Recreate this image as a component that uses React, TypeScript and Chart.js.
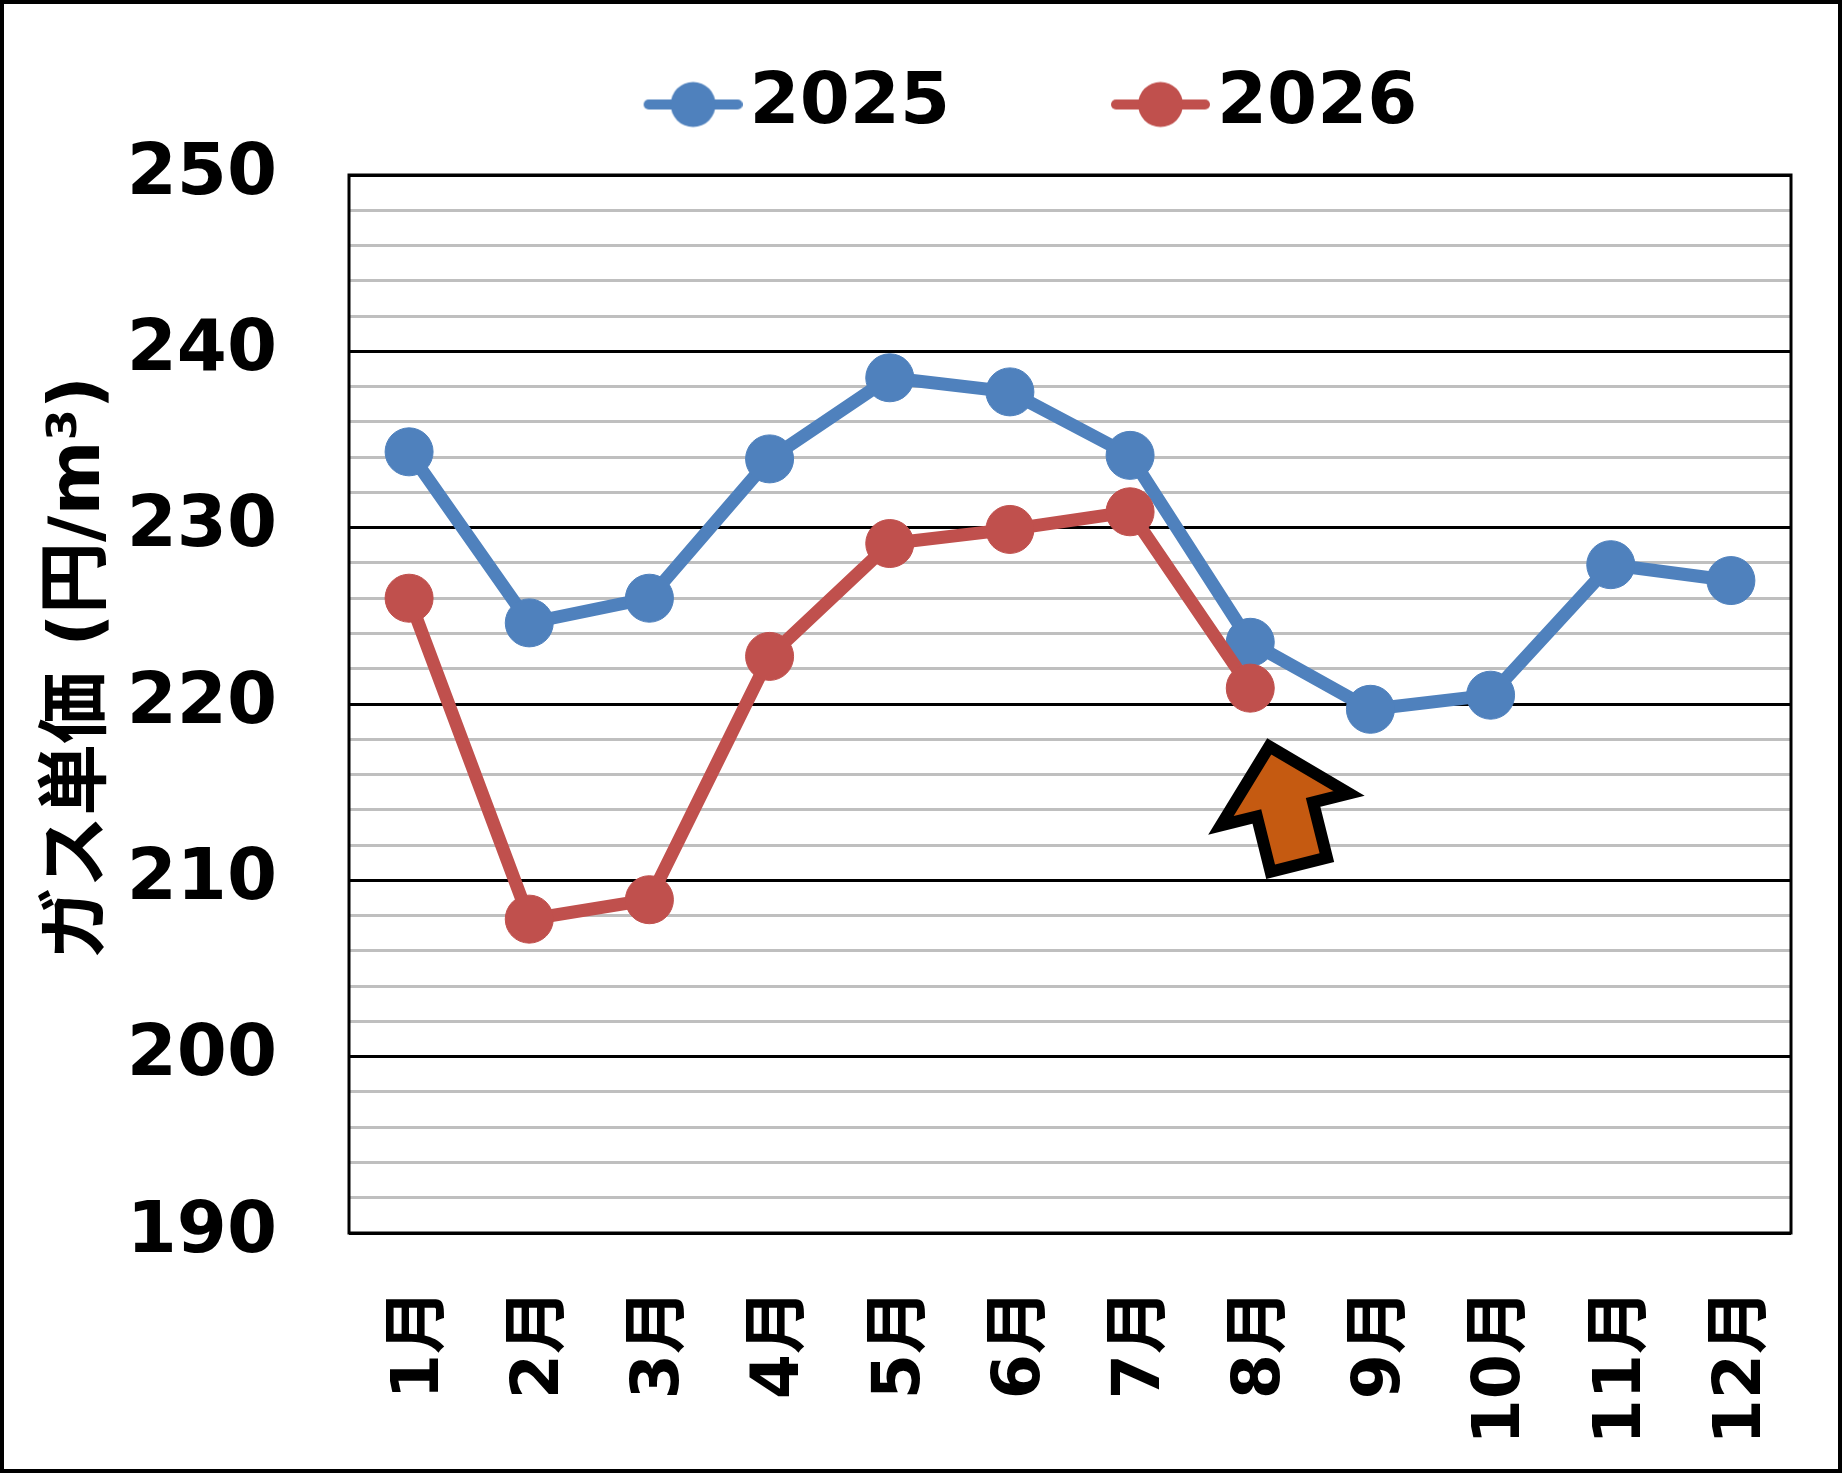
import React, { useEffect, useRef } from 'react';
import { Chart, registerables } from 'chart.js';

Chart.register(...registerables);

const months = ['1月', '2月', '3月', '4月', '5月', '6月', '7月', '8月', '9月', '10月', '11月', '12月'];
const prices2025 = [234.3, 224.6, 226.0, 233.9, 238.5, 237.7, 234.1, 223.5, 219.7, 220.5, 227.9, 227.0];
const prices2026 = [226.0, 207.8, 208.9, 222.7, 229.1, 229.9, 230.9, 220.9];
const seriesNames = ['2025', '2026'];
const seriesColors = ['#4F81BD', '#C0504D'];

const yMin = 190;
const yMax = 250;
const yStep = 2;
const yMajor = 10;
const yTitle = '\u3000ガス単価 (円/m³)';

// orange arrow under the latest month
const arrowMonth = '8月';
const arrowValue = 217.6;

const FONT = '"DejaVu Sans", "Noto Sans CJK JP", sans-serif';
const W = 1834;
const H = 1465;

// line + dot marker for the legend (dot sits at the right end of the image)
function legendMarker(color: string) {
  const c = document.createElement('canvas');
  c.width = 269;
  c.height = 48;
  const g = c.getContext('2d')!;
  g.strokeStyle = color;
  g.lineWidth = 10;
  g.lineCap = 'round';
  g.beginPath();
  g.moveTo(175, 24);
  g.lineTo(264, 24);
  g.stroke();
  g.fillStyle = color;
  g.beginPath();
  g.arc(219.5, 24, 22.5, 0, Math.PI * 2);
  g.fill();
  return c;
}

const framePlugin = {
  id: 'frame',
  beforeDatasetsDraw(chart: Chart) {
    const { ctx, chartArea: a } = chart;
    ctx.save();
    ctx.strokeStyle = '#000';
    ctx.lineWidth = 3;
    ctx.strokeRect(a.left, a.top, a.right - a.left, a.bottom - a.top);
    ctx.restore();
  },
};

const legendShiftPlugin = {
  id: 'legendShift',
  afterLayout(chart: Chart) {
    const lg: any = (chart as any).legend;
    if (!lg) return;
    lg.left += 62.5;
    lg.right += 62.5;
    lg.top -= 24.5;
    lg.bottom -= 24.5;
  },
};

const arrowPlugin = {
  id: 'arrow',
  afterDatasetsDraw(chart: Chart) {
    const { ctx } = chart;
    const x = chart.scales.x;
    const y = chart.scales.y;
    const px = x.getPixelForValue(months.indexOf(arrowMonth)) + 19;
    const py = y.getPixelForValue(arrowValue);
    ctx.save();
    ctx.translate(px, py);
    ctx.rotate((-14 * Math.PI) / 180);
    ctx.beginPath();
    ctx.moveTo(0, 0);
    ctx.lineTo(66, 65);
    ctx.lineTo(29, 65);
    ctx.lineTo(29, 122);
    ctx.lineTo(-29, 122);
    ctx.lineTo(-29, 65);
    ctx.lineTo(-66, 65);
    ctx.closePath();
    ctx.fillStyle = '#C55A11';
    ctx.fill();
    ctx.lineJoin = 'miter';
    ctx.lineWidth = 12;
    ctx.strokeStyle = '#000';
    ctx.stroke();
    ctx.restore();
  },
};

const App: React.FC = () => {
  const canvasRef = useRef<HTMLCanvasElement>(null);
  const chartRef = useRef<Chart | null>(null);

  useEffect(() => {
    if (!canvasRef.current) return;
    const ctx = canvasRef.current.getContext('2d');
    if (!ctx) return;
    if (chartRef.current) chartRef.current.destroy();

    const markers = seriesColors.map(legendMarker);
    const series = [prices2025, prices2026];

    chartRef.current = new Chart(ctx, {
      type: 'line',
      data: {
        labels: months,
        datasets: series.map((data, i) => ({
          label: seriesNames[i],
          data,
          borderColor: seriesColors[i],
          backgroundColor: seriesColors[i],
          borderWidth: 13,
          pointRadius: 24,
          pointHoverRadius: 24,
          pointBorderWidth: 1,
          pointBorderColor: seriesColors[i],
          pointBackgroundColor: seriesColors[i],
          tension: 0,
          order: series.length - i,
        })),
      },
      options: {
        responsive: false,
        animation: false,
        layout: { padding: { top: 69, right: 47, bottom: 0, left: 0 } },
        plugins: {
          tooltip: { enabled: false },
          legend: {
            position: 'top',
            labels: {
              usePointStyle: true,
              pointStyleWidth: 211,
              padding: 20,
              color: '#000',
              font: { family: FONT, size: 72, weight: 'bold' },
              sort: (a: any, b: any) => a.datasetIndex - b.datasetIndex,
              generateLabels: (chart: Chart) => {
                const items = Chart.defaults.plugins.legend.labels.generateLabels(chart);
                return items.map((it: any) => ({ ...it, pointStyle: markers[it.datasetIndex] }));
              },
            },
          },
        },
        scales: {
          x: {
            offset: true,
            grid: { display: false, drawTicks: false },
            border: { display: false },
            ticks: {
              autoSkip: false,
              minRotation: 90,
              maxRotation: 90,
              padding: 56,
              labelOffset: 12,
              color: '#000',
              font: { family: FONT, size: 65, weight: 'bold' },
            },
            afterFit: (scale: any) => {
              scale.height = 236;
              scale.paddingLeft = 0;
              scale.paddingRight = 0;
            },
          },
          y: {
            min: yMin,
            max: yMax,
            grid: {
              drawTicks: false,
              lineWidth: 3,
              color: (c: any) => (c.tick && c.tick.value % yMajor === 0 ? '#000' : '#BFBFBF'),
            },
            border: { display: false },
            ticks: {
              stepSize: yStep,
              autoSkip: false,
              padding: 72,
              color: '#000',
              font: { family: FONT, size: 72, weight: 'bold' },
              callback: (v: any) => (Number(v) % yMajor === 0 ? String(v) : ''),
            },
            title: {
              display: true,
              text: yTitle,
              color: '#000',
              padding: { top: 33, bottom: 0 },
              font: { family: FONT, size: 72, weight: 'bold' },
            },
            afterFit: (scale: any) => {
              scale.width = 345;
            },
          },
        },
      },
      plugins: [framePlugin, legendShiftPlugin, arrowPlugin],
    } as any);

    return () => {
      if (chartRef.current) {
        chartRef.current.destroy();
        chartRef.current = null;
      }
    };
  }, []);

  return (
    <div
      style={{
        position: 'absolute',
        left: 0,
        top: 0,
        width: 1842,
        height: 1473,
        boxSizing: 'border-box',
        border: '4px solid #000',
        background: '#fff',
      }}
    >
      <canvas ref={canvasRef} width={W} height={H} style={{ display: 'block', width: W, height: H }} />
    </div>
  );
};

export default App;
